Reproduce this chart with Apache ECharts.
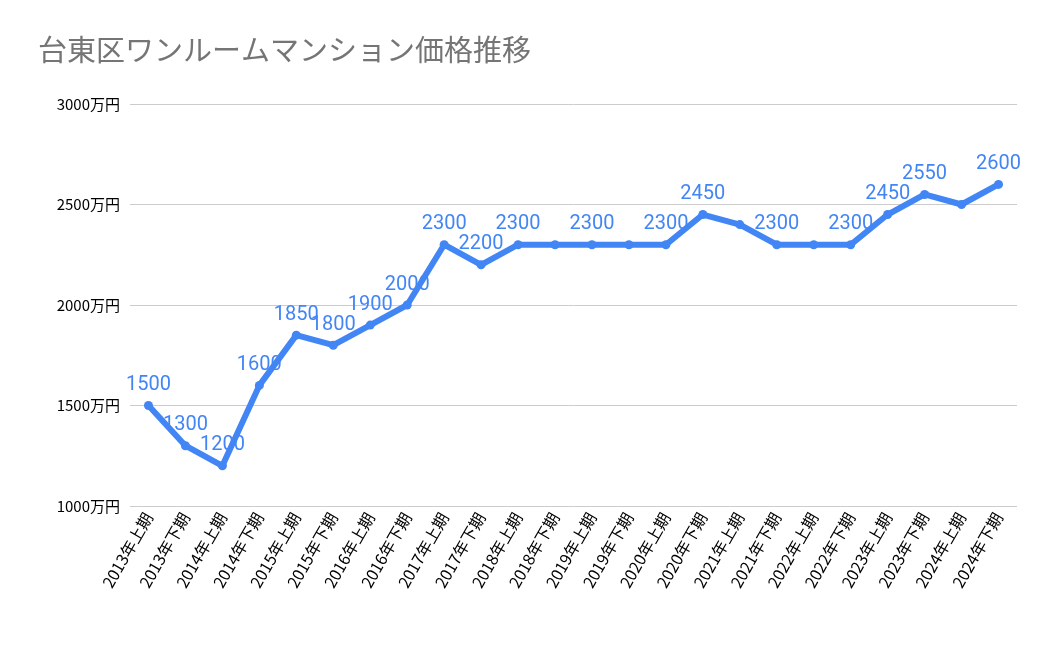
<!DOCTYPE html>
<html><head><meta charset="utf-8">
<script src="https://cdn.jsdelivr.net/npm/echarts@6/dist/echarts.min.js"></script>
<style>html,body{margin:0;background:#fff}#c{width:1050px;height:649px}</style>
</head><body><div id="c"></div>
<script>
const categories=["2013年上期","2013年下期","2014年上期","2014年下期","2015年上期","2015年下期","2016年上期","2016年下期","2017年上期","2017年下期","2018年上期","2018年下期","2019年上期","2019年下期","2020年上期","2020年下期","2021年上期","2021年下期","2022年上期","2022年下期","2023年上期","2023年下期","2024年上期","2024年下期"];
const prices=[1500,1300,1200,1600,1850,1800,1900,2000,2300,2200,2300,2300,2300,2300,2300,2450,2400,2300,2300,2300,2450,2550,2500,2600];
const hiddenLabels=[11,13,16,18,22];
const chart=echarts.init(document.getElementById('c'));
chart.setOption({
  title:{text:'台東区ワンルームマンション価格推移',left:33,top:30,textStyle:{fontSize:29,fontWeight:'normal',color:'#757575',fontFamily:'Noto Sans CJK JP'}},
  grid:{left:130,right:33,top:104,bottom:143},
  xAxis:{type:'category',data:categories,boundaryGap:true,axisTick:{show:false},axisLine:{show:false},
    axisLabel:{rotate:60,fontSize:16,color:'#000',interval:0,fontFamily:'Noto Sans CJK JP',margin:8}},
  yAxis:{type:'value',min:1000,max:3000,interval:500,
    axisLabel:{formatter:v=>v+'万円',fontSize:15,color:'#000',fontFamily:'Noto Sans CJK JP',margin:10},
    splitLine:{lineStyle:{color:'#ccc'}}},
  series:[{type:'line',data:prices.map((v,i)=>({value:v,label:{show:!hiddenLabels.includes(i)}})),
    symbol:'circle',symbolSize:9,lineStyle:{width:6,color:'#4285f4'},itemStyle:{color:'#4285f4'},
    label:{position:'top',fontSize:20,color:'#4285f4',fontFamily:'Roboto',distance:6},labelLayout:{hideOverlap:false}}]
});
</script></body></html>
